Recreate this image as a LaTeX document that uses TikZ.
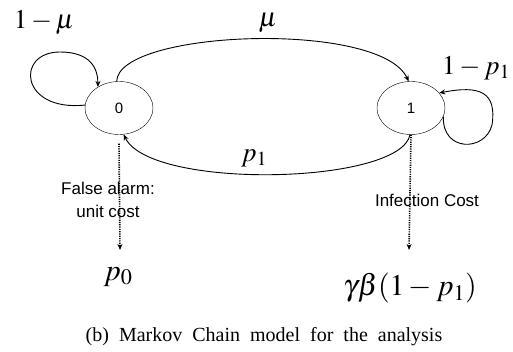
\documentclass[tikz,border=0pt]{standalone}
\usepackage{mathptmx}
\usepackage[no-math]{fontspec}
\setmainfont{Liberation Serif}
\newfontfamily\arialf{Liberation Sans}
\usetikzlibrary{arrows.meta,shapes.geometric}
\begin{document}
\begin{tikzpicture}[x=1pt,y=-1pt,
  state/.style={draw,ellipse,minimum width=68pt,minimum height=53pt,inner sep=0pt,font=\arialf\fontsize{15}{17}\selectfont},
  trans/.style={draw,line width=0.9pt,-{Stealth[length=6pt,width=5pt]}},
  costarrow/.style={draw,line width=1.6pt,dash pattern=on 1.2pt off 1.1pt,-{Stealth[length=6pt,width=5pt]}},
  mlab/.style={font=\fontsize{27}{30}\selectfont,inner sep=0pt},
  blab/.style={font=\fontsize{30}{34}\selectfont},
  slab/.style={font=\arialf\fontsize{17}{23}\selectfont,align=center}]
\useasboundingbox (0,0) rectangle (513,352);
\node[state] (n0) at (119,108) {0};
\node[state] (n1) at (411,108) {1};
\node[mlab] (l0) at (44,23) {$1-\mu$};
\node[mlab] (lmu) at (268,23) {$\mu$};
\node[mlab] (lp1) at (254,158) {$p_1$};
\node[mlab] (l1) at (476,68) {$1-p_1$};
\draw[trans] (n0.175) .. controls (20,112) and (15,52) .. (60,52) .. controls (90,52) and (98,68) .. (n0.135);
\draw[trans] (n0.95) .. controls (118,30) and (380,20) .. (n1.95);
\draw[trans] (n1.268) .. controls (400,185) and (150,190) .. (n0.280);
\draw[trans] (n1.345) .. controls (442,152) and (485,152) .. (492,125) .. controls (497,92) and (480,85) .. (n1.28);
\node[blab] (p0) at (118,277) {$p_0$};
\node[blab] (gb) at (410,288) {$\gamma\beta(1-p_1)$};
\coordinate (t0) at (120,250);
\coordinate (t1) at (409,250);
\draw[costarrow] ([yshift=-9pt]n0.south) -- (t0);
\draw[costarrow] (n1.south) -- (t1);
\node[slab] (fa) at (108,200) {False alarm:\\unit cost};
\node[slab] (ic) at (427,200) {Infection Cost};
\node[font=\fontsize{20}{24}\selectfont] (cap) at (264,337) {(b)\ \ Markov\ \ Chain\ \ model\ \ for\ \ the\ \ analysis};
\end{tikzpicture}
\end{document}
